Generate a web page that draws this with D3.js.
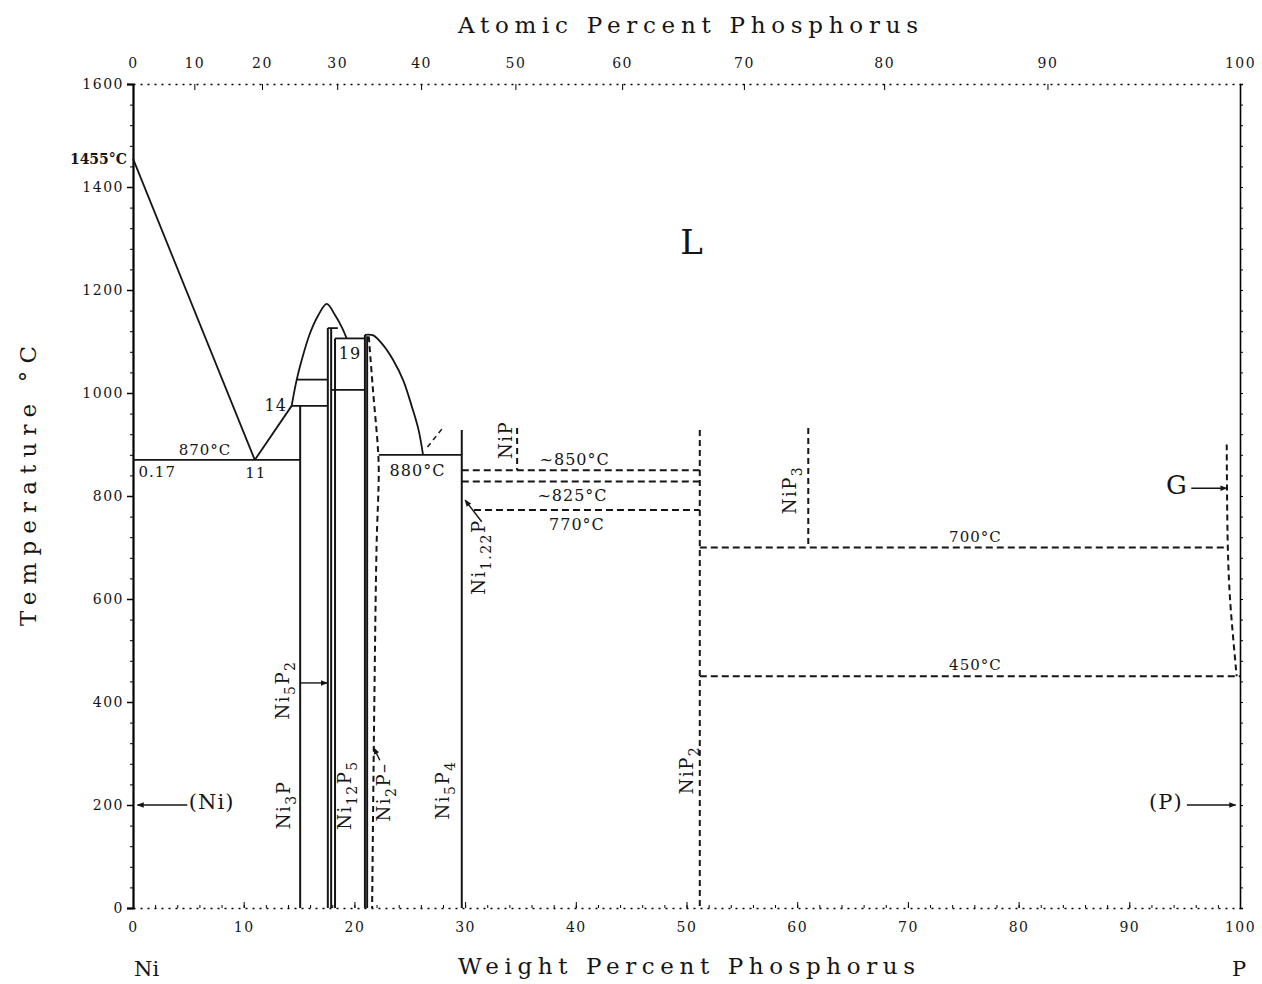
<!DOCTYPE html>
<html>
<head>
<meta charset="utf-8">
<script src="https://cdn.jsdelivr.net/npm/d3@7"></script>
<style>
body { margin: 0; background: #fff; }
text { font-family: "DejaVu Serif", "Liberation Serif", serif; fill: #151515; }
.tick text { letter-spacing: 1.5px; }
</style>
</head>
<body>
<script>
const width = 1262
const height = 984

// axis ticks
const tempTicks = [0, 200, 400, 600, 800, 1000, 1200, 1400, 1600]
const wtTicks = [0, 10, 20, 30, 40, 50, 60, 70, 80, 90, 100]
const atTicks = [0, 10, 20, 30, 40, 50, 60, 70, 80, 90, 100]

// liquidus lines, [wt% P, temperature °C]
const niLiquidus = [[0, 1455], [11, 870]]
const ni3pLiquidus = [[11, 870], [14.33, 975]]
const ni5p2Liquidus = [[14.33, 975], [14.78, 1025], [15.24, 1064], [15.99, 1116], [16.74, 1151], [17.5, 1173], [18.26, 1151], [18.86, 1128], [19.3, 1106]]
const ni2pLiquidus = [[20.96, 1113], [21.7, 1112], [22.6, 1093], [23.5, 1064], [24.4, 1025], [25.2, 973], [25.8, 928], [26.2, 880]]
const ni2pSolvus = [[21.3, 1110], [21.7, 1000], [22.1, 900], [22.2, 850], [22.0, 700], [21.8, 400], [21.6, 0]]
const pSolvus = [[98.8, 900], [98.9, 700], [99.1, 600], [99.7, 450]]
const liquidusStub = [[26.6, 895], [27.9, 930]]

// horizontal invariant lines: temperature, from wt%, to wt%
const solidIsotherms = [
    [870, 0, 15.1],
    [975, 14.33, 17.6],
    [1026, 14.78, 17.6],
    [1126, 17.6, 18.5],
    [1106, 18.25, 20.95],
    [1006, 17.9, 20.95],
    [880, 22.2, 29.7]
]
const dashedIsotherms = [
    [850, 29.7, 51.2],
    [828, 29.7, 51.2],
    [773, 30.8, 51.2],
    [700, 51.2, 98.9],
    [450, 51.2, 100]
]

// vertical compound lines: wt%, top temperature, bottom temperature
const solidPhases = [
    [15.1, 975, 0],
    [17.6, 1126, 0],
    [17.9, 1126, 0],
    [18.25, 1106, 0],
    [20.95, 1113, 0],
    [21.15, 1110, 0],
    [29.7, 928, 0]
]
const dashedPhases = [
    [34.7, 932, 850],
    [51.2, 928, 0],
    [61.0, 932, 700]
]

const svg = d3.select("body")
    .append("svg")
    .attr("width", width)
    .attr("height", height)

svg.append("defs").append("marker")
    .attr("id", "arrow")
    .attr("viewBox", "0 0 10 10")
    .attr("refX", 9)
    .attr("refY", 5)
    .attr("markerWidth", 10)
    .attr("markerHeight", 7)
    .attr("markerUnits", "userSpaceOnUse")
    .attr("orient", "auto")
    .append("path")
    .attr("d", "M0,1 L10,5 L0,9 Z")
    .attr("fill", "#151515")

const x = d3.scaleLinear().domain([0, 100]).range([133, 1240])
const y = d3.scaleLinear().domain([0, 1600]).range([908, 84])

// atomic % -> weight % for the top scale
const mP = 30.974, mNi = 58.693
const atToWt = a => 100 * a * mP / (a * mP + (100 - a) * mNi)

// ---- axes ----
const leftAxis = svg.append("g")
    .attr("transform", `translate(${x(0)},0)`)
    .call(d3.axisLeft(y).tickValues(tempTicks).tickFormat(d3.format("d")).tickSize(6).tickPadding(3))
leftAxis.select(".domain").attr("stroke-width", 2.2)
leftAxis.selectAll("text").style("font-size", "14px")
leftAxis.selectAll(".tick line").attr("stroke-width", 1.5)
svg.append("g")
    .attr("transform", `translate(${x(0)},0)`)
    .call(d3.axisLeft(y).tickValues(d3.range(0, 1601, 40)).tickSize(3).tickFormat(""))
    .call(g => g.select(".domain").remove())

const rightAxis = svg.append("g")
    .attr("transform", `translate(${x(100)},0)`)
    .call(d3.axisRight(y).tickValues(d3.range(0, 1601, 40)).tickSize(3).tickFormat(""))
rightAxis.select(".domain").attr("stroke-width", 1.6)

const bottomAxis = svg.append("g")
    .attr("transform", `translate(0,${y(0)})`)
    .call(d3.axisBottom(x).tickValues(wtTicks).tickSizeInner(-6).tickSizeOuter(0).tickPadding(14))
bottomAxis.select(".domain").attr("stroke-dasharray", "2,5").attr("stroke-width", 1.6)
bottomAxis.selectAll("text").style("font-size", "14px")
svg.append("g")
    .attr("transform", `translate(0,${y(0)})`)
    .call(d3.axisBottom(x).tickValues(d3.range(0, 101, 2)).tickSizeInner(-3).tickSizeOuter(0).tickFormat(""))
    .call(g => g.select(".domain").remove())

const topAxis = svg.append("g")
    .attr("transform", `translate(0,${y(1600)})`)
    .call(d3.axisTop(x).tickValues(atTicks.map(atToWt)).tickSizeInner(-6).tickSizeOuter(0).tickPadding(16)
        .tickFormat((d, i) => atTicks[i]))
topAxis.select(".domain").attr("stroke-dasharray", "2,5").attr("stroke-width", 1.6)
topAxis.selectAll("text").style("font-size", "14px")

svg.append("text")
    .text("1455°C")
    .attr("x", x(0) - 6)
    .attr("y", y(1455) + 5)
    .attr("text-anchor", "end")
    .style("font-size", "14px")
    .style("font-weight", "bold")

// axis titles
svg.append("text")
    .text("Atomic Percent Phosphorus")
    .attr("x", 458).attr("y", 33)
    .attr("textLength", 460).attr("lengthAdjust", "spacing")
    .style("font-size", "23px")
svg.append("text")
    .text("Weight Percent Phosphorus")
    .attr("x", 458).attr("y", 974)
    .attr("textLength", 457).attr("lengthAdjust", "spacing")
    .style("font-size", "23px")
svg.append("text")
    .text("Temperature °C")
    .attr("transform", "translate(36,626) rotate(-90)")
    .attr("textLength", 280).attr("lengthAdjust", "spacing")
    .style("font-size", "23px")
svg.append("text").text("Ni").attr("x", 134).attr("y", 976).style("font-size", "21px")
svg.append("text").text("P").attr("x", 1232).attr("y", 976).style("font-size", "21px")

// ---- phase boundaries ----
const line = d3.line().x(d => x(d[0])).y(d => y(d[1]))
const curve = d3.line().x(d => x(d[0])).y(d => y(d[1])).curve(d3.curveCatmullRom)
const plot = svg.append("g").attr("fill", "none").attr("stroke", "#151515")

plot.append("path").datum(niLiquidus).attr("d", line).attr("stroke-width", 1.8)
plot.append("path").datum(ni3pLiquidus).attr("d", line).attr("stroke-width", 1.8)
plot.append("path").datum(ni5p2Liquidus).attr("d", curve).attr("stroke-width", 1.8)
plot.append("path").datum(ni2pLiquidus).attr("d", curve).attr("stroke-width", 1.8)
plot.append("path").datum(ni2pSolvus).attr("d", curve).attr("stroke-width", 2).attr("stroke-dasharray", "6,4")
plot.append("path").datum(pSolvus).attr("d", curve).attr("stroke-width", 2).attr("stroke-dasharray", "6,4")
plot.append("path").datum(liquidusStub).attr("d", line).attr("stroke-width", 1.5).attr("stroke-dasharray", "5,4")

plot.selectAll(".iso-solid")
    .data(solidIsotherms)
    .join("line")
    .attr("x1", d => x(d[1])).attr("x2", d => x(d[2]))
    .attr("y1", d => y(d[0])).attr("y2", d => y(d[0]))
    .attr("stroke-width", 1.8)

plot.selectAll(".iso-dashed")
    .data(dashedIsotherms)
    .join("line")
    .attr("x1", d => x(d[1])).attr("x2", d => x(d[2]))
    .attr("y1", d => y(d[0])).attr("y2", d => y(d[0]))
    .attr("stroke-width", 2)
    .attr("stroke-dasharray", "7,4")

plot.selectAll(".phase-solid")
    .data(solidPhases)
    .join("line")
    .attr("x1", d => x(d[0])).attr("x2", d => x(d[0]))
    .attr("y1", d => y(d[1])).attr("y2", d => y(d[2]))
    .attr("stroke-width", 2)

plot.selectAll(".phase-dashed")
    .data(dashedPhases)
    .join("line")
    .attr("x1", d => x(d[0])).attr("x2", d => x(d[0]))
    .attr("y1", d => y(d[1])).attr("y2", d => y(d[2]))
    .attr("stroke-width", 2)
    .attr("stroke-dasharray", "6,4")

// ---- arrows ----
function arrow(x1, t1, x2, t2) {
    svg.append("line")
        .attr("x1", x(x1)).attr("y1", y(t1))
        .attr("x2", x(x2)).attr("y2", y(t2))
        .attr("stroke", "#151515")
        .attr("stroke-width", 1.4)
        .attr("marker-end", "url(#arrow)")
}
arrow(4.9, 200, 0.4, 200)
arrow(95.2, 200, 99.6, 200)
arrow(95.6, 815, 98.8, 815)
arrow(15.1, 437, 17.55, 437)
arrow(22.3, 287, 21.75, 311)
arrow(31.5, 750, 30.0, 792)

// ---- labels ----
function label(txt, px, py, size, anchor) {
    svg.append("text")
        .text(txt)
        .attr("x", px).attr("y", py)
        .attr("text-anchor", anchor || "middle")
        .style("font-size", size + "px")
        .style("letter-spacing", "1px")
}
label("870°C", x(6.5), y(870) - 5, 15)
label("0.17", x(0.5), y(870) + 17, 15, "start")
label("11", x(11.1), y(870) + 18, 15)
label("14", x(12.9), y(975) + 5, 16)
label("19", x(19.6), y(1066), 16)
label("880°C", x(25.7), y(880) + 21, 16)
label("~850°C", x(39.9), y(850) - 5, 16)
label("~825°C", x(39.7), y(828) + 19, 16)
label("770°C", x(40.1), y(773) + 20, 16)
label("700°C", x(76.1), y(700) - 6, 15)
label("450°C", x(76.1), y(450) - 6, 15)
label("L", x(50.5), y(1270), 34)
label("G", x(94.3), y(803), 26)
label("(P)", x(93.3), y(192), 21)
label("(Ni)", x(7.1), y(192), 21)

// rotated compound names: [text, subscript?] parts
function formula(parts, cx, cy) {
    const t = svg.append("text")
        .attr("transform", `translate(${cx},${cy}) rotate(-90)`)
        .attr("text-anchor", "middle")
        .attr("dy", "0.35em")
        .style("font-size", "18px")
        .style("letter-spacing", "1.5px")
    let down = false
    parts.forEach(([s, sub]) => {
        const ts = t.append("tspan").text(s)
        if (sub && !down) { ts.attr("dy", 6).style("font-size", "14px"); down = true }
        else if (sub) { ts.style("font-size", "14px") }
        else if (down) { ts.attr("dy", -6); down = false }
    })
}
formula([["NiP"]], 506, 440)
formula([["NiP"], ["3", true]], 790, 490)
formula([["NiP"], ["2", true]], 687, 770)
formula([["Ni"], ["3", true], ["P"]], 284, 805)
formula([["Ni"], ["5", true], ["P"], ["2", true]], 283, 690)
formula([["Ni"], ["12", true], ["P"], ["5", true]], 345, 795)
formula([["Ni"], ["2", true], ["P–"]], 384, 792)
formula([["Ni"], ["5", true], ["P"], ["4", true]], 443, 790)
formula([["Ni"], ["1.22", true], ["P"]], 479, 557)
</script>
</body>
</html>
